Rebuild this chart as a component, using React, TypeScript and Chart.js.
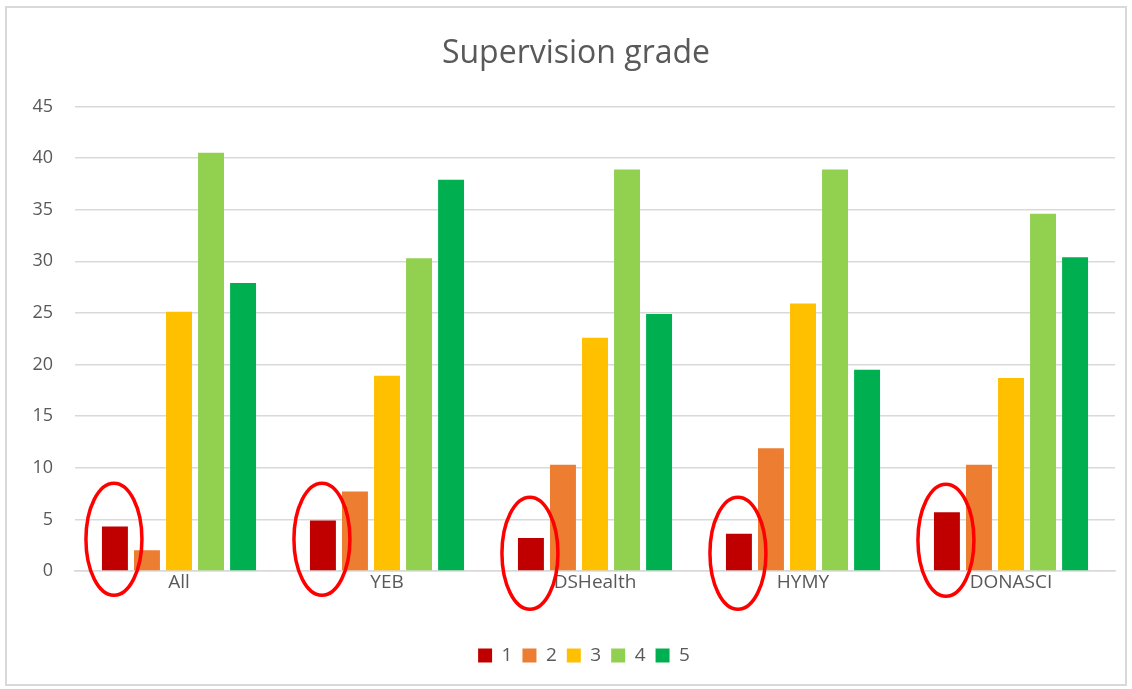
import React, { useEffect, useRef } from "react";
import { Chart, registerables } from "chart.js";

Chart.register(...registerables);

const categories = ["All", "YEB", "DSHealth", "HYMY", "DONASCI"];
const seriesLabels = ["1", "2", "3", "4", "5"];
const grade1 = [4.3, 4.9, 3.2, 3.6, 5.7];
const grade2 = [2.0, 7.7, 10.3, 11.9, 10.3];
const grade3 = [25.1, 18.9, 22.6, 25.9, 18.7];
const grade4 = [40.5, 30.3, 38.9, 38.9, 34.6];
const grade5 = [27.9, 37.9, 24.9, 19.5, 30.4];
const seriesColors = ["#C00000", "#ED7D31", "#FFC000", "#92D050", "#00B050"];

const FONT = "'Open Sans', Lato, sans-serif";
const TEXT = "#595959";

const ellipsePlugin = {
  id: "ellipses",
  afterDatasetsDraw(chart: any) {
    const meta = chart.getDatasetMeta(0);
    const ctx = chart.ctx;
    const yOffsets = [-31, -31, -17, -17, -30];
    ctx.save();
    ctx.strokeStyle = "#FF0000";
    ctx.lineWidth = 3.5;
    meta.data.forEach((el: any, i: number) => {
      ctx.beginPath();
      ctx.ellipse(el.x - 1, el.base + yOffsets[i], 28, 56, 0, 0, Math.PI * 2);
      ctx.stroke();
    });
    ctx.restore();
  },
};

const shiftPlugin = {
  id: "shiftBoxes",
  afterLayout(chart: any) {
    if (chart.legend) {
      chart.legend.left += 14;
      chart.legend.right += 14;
    }
    if (chart.titleBlock) {
      chart.titleBlock.left += 6;
      chart.titleBlock.right += 6;
    }
  },
};

export default function App() {
  const ref = useRef<HTMLCanvasElement | null>(null);
  useEffect(() => {
    if (!ref.current) return;
    const all = [grade1, grade2, grade3, grade4, grade5];
    const chart = new Chart(ref.current, {
      type: "bar",
      data: {
        labels: categories,
        datasets: all.map((d, i) => ({
          label: seriesLabels[i],
          data: d,
          backgroundColor: seriesColors[i],
          borderWidth: 0,
          categoryPercentage: 0.77,
          barPercentage: 0.81,
        })),
      },
      options: {
        animation: false,
        responsive: false,
        maintainAspectRatio: false,
        layout: { padding: { left: 25, right: 17, top: 22, bottom: 14 } },
        plugins: {
          title: {
            display: true,
            text: "Supervision grade",
            color: TEXT,
            font: { family: FONT, size: 32, weight: "normal" },
            padding: { top: 13, bottom: 33 },
          },
          legend: {
            position: "bottom",
            labels: {
              color: TEXT,
              font: { family: FONT, size: 19 },
              boxWidth: 14,
              boxHeight: 14,
              padding: 10,
            },
          },
          tooltip: { enabled: false },
        },
        scales: {
          x: {
            grid: { display: false, drawTicks: false },
            border: { display: true, color: "#D9D9D9", width: 1.5 },
            ticks: { color: TEXT, font: { family: FONT, size: 19 }, padding: 0 },
            afterFit: (s: any) => {
              s.height = 65;
            },
          },
          y: {
            min: 0,
            max: 45,
            ticks: {
              stepSize: 5,
              color: TEXT,
              font: { family: FONT, size: 18 },
              padding: 22,
            },
            grid: { color: "#D9D9D9", lineWidth: 1.5, drawTicks: false },
            border: { display: false },
            afterFit: (s: any) => {
              s.width = 50;
            },
          },
        },
      },
      plugins: [ellipsePlugin, shiftPlugin],
    });
    return () => chart.destroy();
  }, []);

  return (
    <div style={{ position: "fixed", left: 0, top: 0, width: 1132, height: 689, background: "#fff" }}>
      <div
        style={{
          position: "absolute",
          left: 5,
          top: 6,
          width: 1118,
          height: 676,
          border: "2px solid #D9D9D9",
        }}
      />
      <canvas ref={ref} width={1132} height={689} style={{ position: "absolute", left: 0, top: 0 }} />
    </div>
  );
}
